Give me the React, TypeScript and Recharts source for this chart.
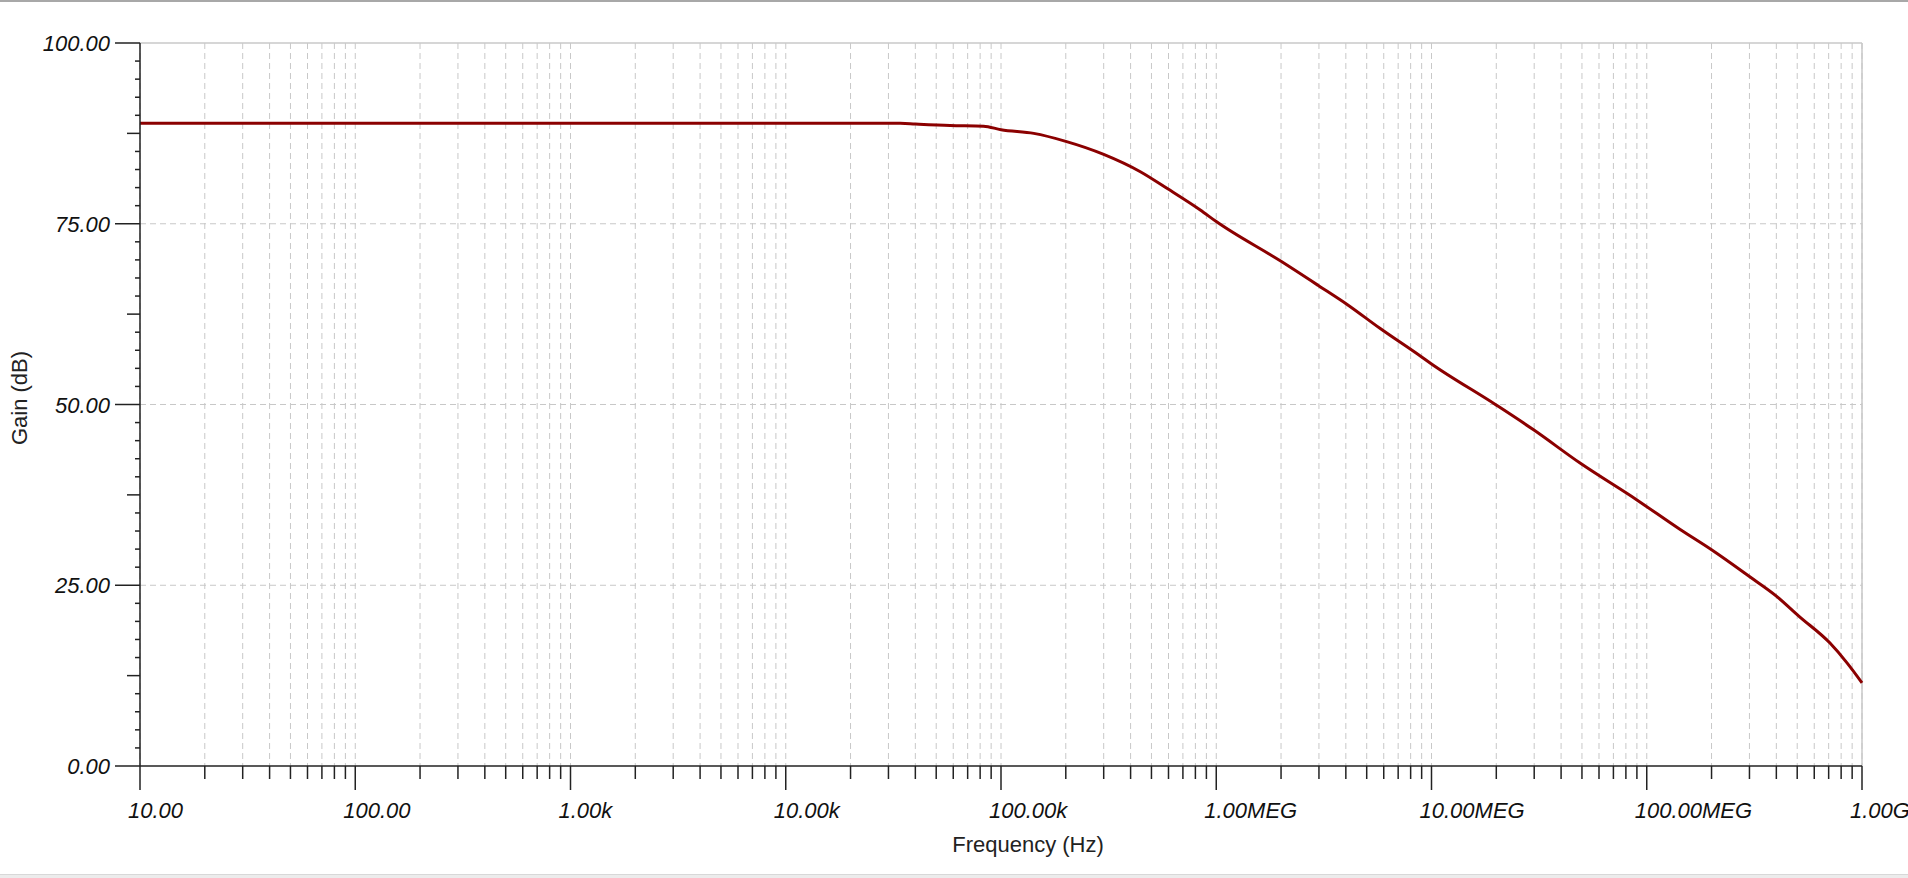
import { LineChart, Line, XAxis, YAxis, CartesianGrid, ReferenceLine } from "recharts";

// frequency sweep
const freqHz = [
  10, 100, 1000, 10000, 34000, 40000, 58000, 83000, 100000, 142000, 200000,
  300000, 444000, 590000, 843000, 1e6, 2e6, 3e6, 4.07e6, 5.78e6, 8.87e6, 1e7,
  1.98e7, 2.98e7, 4.9e7, 9e7, 1.43e8, 2e8, 3e8, 4e8, 5.1e8, 7.1e8, 8.5e8, 1e9,
];
const gainDb = [
  88.9, 88.9, 88.9, 88.9, 88.9, 88.8, 88.6, 88.5, 88.0, 87.5, 86.4, 84.6, 82.2,
  79.9, 76.9, 75.3, 69.8, 66.4, 63.8, 60.5, 56.7, 55.6, 50.0, 46.5, 41.9, 36.8,
  32.7, 29.9, 26.2, 23.5, 20.7, 17.0, 14.3, 11.5,
];

const decades = [10, 100, 1e3, 1e4, 1e5, 1e6, 1e7, 1e8, 1e9];
const decadeLabels = [
  "10.00", "100.00", "1.00k", "10.00k", "100.00k",
  "1.00MEG", "10.00MEG", "100.00MEG", "1.00G",
];
const minorSteps = [2, 3, 4, 5, 6, 7, 8, 9];

const yMajor = [0, 25, 50, 75, 100];
const yLabels = ["0.00", "25.00", "50.00", "75.00", "100.00"];
const yGridLines = [25, 50, 75];

const data = freqHz.map((f, i) => ({ f, gain: gainDb[i] }));

const xTicks = decades.flatMap((d, i) =>
  i < decades.length - 1 ? [d, ...minorSteps.map((m) => d * m)] : [d]
);
const yTicks = yMajor
  .slice(0, -1)
  .flatMap((v) => Array.from({ length: 10 }, (_, k) => v + k * 2.5))
  .concat([100]);

const FONT = '"Liberation Sans", Arial, sans-serif';
const AXIS = "#222";
const GRID = "#c8c8c8";

function XTick(props: any) {
  const { x, y, payload } = props;
  const idx = decades.indexOf(payload.value);
  const major = idx >= 0;
  return (
    <g>
      <line x1={x} x2={x} y1={y} y2={y + (major ? 24 : 13)} stroke={AXIS} strokeWidth={1.5} />
      {major && (
        <text x={x - 12} y={y + 52} fontSize={22} fontStyle="italic" fontFamily={FONT} fill="#111" textAnchor="start">
          {decadeLabels[idx]}
        </text>
      )}
    </g>
  );
}

function YTick(props: any) {
  const { x, y, payload } = props;
  const idx = yMajor.indexOf(payload.value);
  const major = idx >= 0;
  const mid = !major && payload.value % 12.5 === 0;
  const len = major ? 25 : mid ? 13 : 5;
  return (
    <g>
      <line x1={x - len} x2={x} y1={y} y2={y} stroke={AXIS} strokeWidth={1.5} />
      {major && (
        <text x={x - 30} y={y + 8} fontSize={22} fontStyle="italic" fontFamily={FONT} fill="#111" textAnchor="end">
          {yLabels[idx]}
        </text>
      )}
    </g>
  );
}

export default function App() {
  return (
    <div style={{ position: "absolute", left: 0, top: 0, width: 1908, height: 878, background: "#fff" }}>
      <div style={{ position: "absolute", left: 0, top: 0, width: 1908, height: 2, background: "#a8a8a8" }} />
      <div style={{ position: "absolute", left: 0, top: 874, width: 1908, height: 4, background: "#ececec", borderTop: "1px solid #d8d8d8" }} />
      <LineChart width={1908} height={878} data={data} margin={{ top: 43, right: 46, bottom: 52, left: 40 }}>
        <CartesianGrid horizontal={false} stroke={GRID} strokeDasharray="6 4" />
        {yGridLines.map((v) => (
          <ReferenceLine key={v} y={v} stroke={GRID} strokeDasharray="6 4" />
        ))}
        <ReferenceLine y={100} stroke={GRID} strokeWidth={1.5} />
        <ReferenceLine x={1e9} stroke={GRID} strokeWidth={1.5} />
        <XAxis
          dataKey="f"
          type="number"
          scale="log"
          domain={[10, 1e9]}
          ticks={xTicks}
          interval={0}
          height={60}
          tickSize={0}
          tickMargin={0}
          tickLine={false}
          axisLine={{ stroke: AXIS, strokeWidth: 1.5 }}
          tick={<XTick />}
        />
        <YAxis
          type="number"
          domain={[0, 100]}
          ticks={yTicks}
          interval={0}
          width={100}
          tickSize={0}
          tickMargin={0}
          tickLine={false}
          axisLine={{ stroke: AXIS, strokeWidth: 1.5 }}
          tick={<YTick />}
        />
        <Line
          dataKey="gain"
          type="monotoneX"
          stroke="#8b0000"
          strokeWidth={3}
          dot={false}
          isAnimationActive={false}
        />
      </LineChart>
      <svg width={1908} height={878} style={{ position: "absolute", left: 0, top: 0, pointerEvents: "none" }}>
        <text x={1028} y={852} fontSize={22} fontFamily={FONT} fill="#222" textAnchor="middle">
          Frequency (Hz)
        </text>
        <text x={27} y={398} fontSize={22} fontFamily={FONT} fill="#222" textAnchor="middle" transform="rotate(-90 27 398)">
          Gain (dB)
        </text>
      </svg>
    </div>
  );
}
